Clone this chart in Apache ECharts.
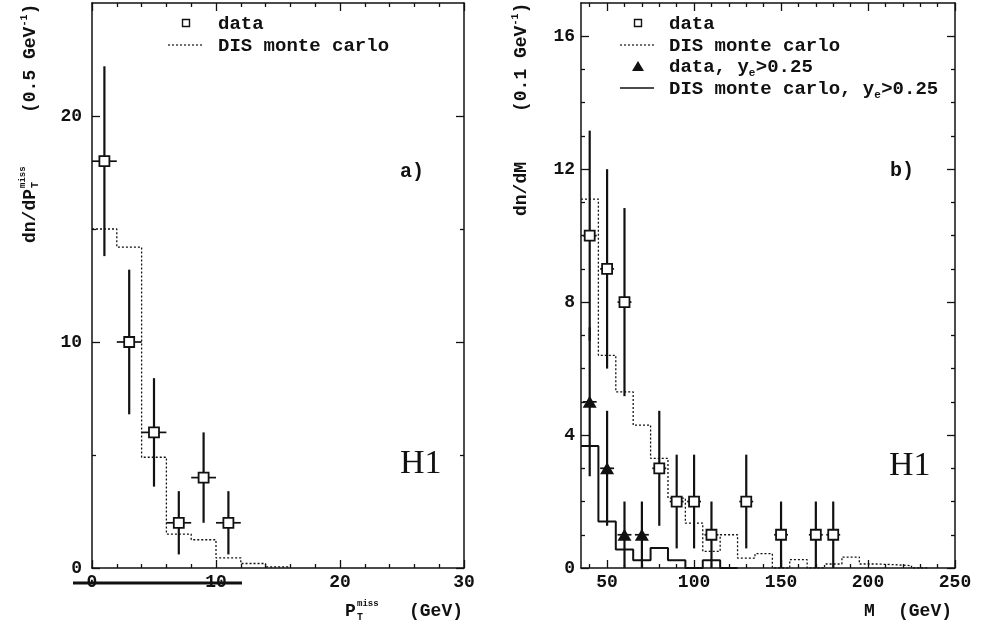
<!DOCTYPE html>
<html>
<head>
<meta charset="utf-8">
<script src="https://cdn.jsdelivr.net/npm/echarts@6/dist/echarts.min.js"></script>
<style>
  html, body { margin: 0; padding: 0; background: #fff; }
  #chart { width: 994px; height: 626px; }
</style>
</head>
<body>
<div id="chart"></div>
<script>
// ---------- panel a): missing transverse momentum ----------
const ptDataX = [1, 3, 5, 7, 9, 11];
const ptDataY = [18, 10, 6, 2, 4, 2];
const ptDataLo = [13.8, 6.8, 3.6, 0.6, 2.0, 0.6];
const ptDataHi = [22.2, 13.2, 8.4, 3.4, 6.0, 3.4];
const ptHalfBin = 1;
const ptMcEdges = [0, 2, 4, 6, 8, 10, 12, 14, 16];
const ptMcValues = [15.0, 14.2, 4.9, 1.5, 1.25, 0.45, 0.2, 0.05];
const ptXLabels = [0, 10, 20, 30];
const ptXMinor = [2, 4, 6, 8, 12, 14, 16, 18, 22, 24, 26, 28];
const ptYLabels = [0, 10, 20];
const ptYMinor = [5, 15];

// ---------- panel b): invariant mass ----------
const mDataX = [40, 50, 60, 80, 90, 100, 110, 130, 150, 170, 180];
const mDataY = [10, 9, 8, 3, 2, 2, 1, 2, 1, 1, 1];
const mDataLo = [6.84, 6.0, 5.17, 1.27, 0.59, 0.59, 0, 0.59, 0, 0, 0];
const mDataHi = [13.16, 12.0, 10.83, 4.73, 3.41, 3.41, 2, 3.41, 2, 2, 2];
const mCutX = [40, 50, 60, 70];
const mCutY = [5, 3, 1, 1];
const mCutLo = [2.76, 1.27, 0, 0];
const mCutHi = [7.24, 4.73, 2, 2];
const mHalfBar = 4;
const mMcEdges = [35, 45, 55, 65, 75, 85, 95, 105, 115, 125, 135, 145, 155, 165, 175, 185, 195, 205, 215, 225, 235];
const mMcValues = [11.1, 6.4, 5.3, 4.3, 3.3, 2.1, 1.35, 0.5, 1.0, 0.3, 0.43, 0, 0.25, 0, 0.12, 0.33, 0.12, 0.1, 0.07, 0];
const mMcCutEdges = [35, 45, 55, 65, 75, 85, 95, 105, 115, 125];
const mMcCutValues = [3.67, 1.4, 0.56, 0.23, 0.6, 0.23, 0, 0.23, 0];
const mXLabels = [50, 100, 150, 200, 250];
const mXMinor = [40, 60, 70, 80, 90, 110, 120, 130, 140, 160, 170, 180, 190, 210, 220, 230, 240];
const mYLabels = [0, 4, 8, 12, 16];
const mYMinor = [1, 2, 3, 5, 6, 7, 9, 10, 11, 13, 14, 15];

const INK = '#111';
const MONO = 'Liberation Mono';
const SERIF = 'Liberation Serif';

// step outline of a histogram: one point per lower edge, closed at the last upper edge
function histPoints(edges, values) {
  const pts = values.map((v, i) => [edges[i], v]);
  pts.push([edges[edges.length - 1], values[values.length - 1]]);
  return pts;
}

function errRows(xs, ys, lo, hi, dx) {
  return xs.map((x, i) => [x, ys[i], lo[i], hi[i], dx]);
}

// one axis of the frame: labels/major ticks or minor ticks only
function axis(gridIndex, position, min, max, labels, ticks, len, showLine, showLabels, labelMargin) {
  return {
    type: 'value', gridIndex, position, min, max,
    axisLine: { show: showLine, onZero: false, lineStyle: { color: INK, width: 1.5 } },
    axisTick: { show: true, inside: true, length: len, customValues: ticks, lineStyle: { color: INK, width: 1.3 } },
    axisLabel: {
      show: showLabels, customValues: labels, margin: labelMargin,
      color: INK, fontFamily: MONO, fontWeight: 'bold', fontSize: 18
    },
    splitLine: { show: false }
  };
}

function frameAxes(gridIndex, xMin, xMax, xLab, xMin2, yMin, yMax, yLab, yMin2, yMargin) {
  const xs = [
    axis(gridIndex, 'bottom', xMin, xMax, xLab, xLab, 8, true, true, 5),
    axis(gridIndex, 'bottom', xMin, xMax, [], xMin2, 4, false, false, 5),
    axis(gridIndex, 'top', xMin, xMax, [], xLab, 8, true, false, 5),
    axis(gridIndex, 'top', xMin, xMax, [], xMin2, 4, false, false, 5)
  ];
  const ys = [
    axis(gridIndex, 'left', yMin, yMax, yLab, yLab, 8, true, true, yMargin),
    axis(gridIndex, 'left', yMin, yMax, [], yMin2, 4, false, false, yMargin),
    axis(gridIndex, 'right', yMin, yMax, [], yLab, 8, true, false, yMargin),
    axis(gridIndex, 'right', yMin, yMax, [], yMin2, 4, false, false, yMargin)
  ];
  return { xs, ys };
}

const fa = frameAxes(0, 0, 30, ptXLabels, ptXMinor, 0, 25, ptYLabels, ptYMinor, 10);
const fb = frameAxes(1, 35, 250, mXLabels, mXMinor, 0, 17, mYLabels, mYMinor, 6);

function errorSeries(rows, axisIdx) {
  return {
    type: 'custom', xAxisIndex: axisIdx, yAxisIndex: axisIdx,
    data: rows, encode: { x: 0, y: 1 }, z: 3, silent: true,
    renderItem(params, api) {
      const x = api.value(0), y = api.value(1), lo = api.value(2), hi = api.value(3), dx = api.value(4);
      const a = api.coord([x, lo]), b = api.coord([x, hi]);
      const l = api.coord([x - dx, y]), r = api.coord([x + dx, y]);
      return {
        type: 'group',
        children: [
          { type: 'line', shape: { x1: a[0], y1: a[1], x2: b[0], y2: b[1] }, style: { stroke: INK, lineWidth: 2.2 } },
          { type: 'line', shape: { x1: l[0], y1: l[1], x2: r[0], y2: r[1] }, style: { stroke: INK, lineWidth: 1.7 } }
        ]
      };
    }
  };
}

function histSeries(edges, values, axisIdx, dotted, width) {
  return {
    type: 'line', xAxisIndex: axisIdx, yAxisIndex: axisIdx, step: 'end',
    data: histPoints(edges, values), symbol: 'none', z: 2, silent: true,
    lineStyle: { color: INK, width, type: dotted ? [2, 2] : 'solid' }
  };
}

function markerSeries(xs, ys, axisIdx, shape) {
  const open = shape === 'rect';
  return {
    type: 'scatter', xAxisIndex: axisIdx, yAxisIndex: axisIdx, z: 5, silent: true,
    data: xs.map((x, i) => [x, ys[i]]),
    symbol: shape, symbolSize: open ? 10 : [14, 12],
    itemStyle: open
      ? { color: '#fff', borderColor: INK, borderWidth: 1.8, opacity: 1 }
      : { color: INK, opacity: 1 }
  };
}

// ---- free text: legend, panel tags, axis titles ----
const CW = 0.6; // Liberation Mono advance per em
function txt(x, y, s, size, extra) {
  return {
    type: 'text', x, y,
    style: Object.assign({ text: s, fill: INK, font: `bold ${size}px "${MONO}"`, verticalAlign: 'middle', align: 'left' }, extra || {})
  };
}

const LS = 19; // legend font size
const legendA = [
  { type: 'rect', shape: { x: 182.5, y: 19.5, width: 7, height: 7 }, style: { fill: '#fff', stroke: INK, lineWidth: 1.4 } },
  txt(218, 24, 'data', LS),
  { type: 'line', shape: { x1: 168, y1: 45, x2: 203, y2: 45 }, style: { stroke: INK, lineWidth: 1.2, lineDash: [2, 2] } },
  txt(218, 46, 'DIS monte carlo', LS)
];
const lx = 669;
const sub1 = lx + 7 * LS * CW;
const sub2 = lx + 18 * LS * CW;
const legendB = [
  { type: 'rect', shape: { x: 634.5, y: 19.5, width: 7, height: 7 }, style: { fill: '#fff', stroke: INK, lineWidth: 1.4 } },
  txt(lx, 24, 'data', LS),
  { type: 'line', shape: { x1: 620, y1: 45, x2: 654, y2: 45 }, style: { stroke: INK, lineWidth: 1.2, lineDash: [2, 2] } },
  txt(lx, 46, 'DIS monte carlo', LS),
  { type: 'polygon', shape: { points: [[638, 61], [644, 71], [632, 71]] }, style: { fill: INK } },
  txt(lx, 67, 'data, y', LS),
  txt(sub1, 73, 'e', 11),
  txt(sub1 + 7, 67, '>0.25', LS),
  { type: 'line', shape: { x1: 620, y1: 88, x2: 654, y2: 88 }, style: { stroke: INK, lineWidth: 1.6 } },
  txt(lx, 89, 'DIS monte carlo, y', LS),
  txt(sub2, 95, 'e', 11),
  txt(sub2 + 7, 89, '>0.25', LS)
];

// rotated y titles: local x runs up the page, local y to the right
const TS = 18;
const yTitleA = {
  type: 'group', x: 30, y: 243, rotation: Math.PI / 2,
  children: [
    txt(0, 0, 'dn/dP', TS),
    txt(5 * TS * CW + 1, 5, 'T', 10),
    txt(5 * TS * CW + 1, -7, 'miss', 9),
    txt(130, 0, '(0.5 GeV', TS),
    txt(130 + 8 * TS * CW, -6, '-1', 10),
    txt(130 + 8 * TS * CW + 12, 0, ')', TS)
  ]
};
const yTitleB = {
  type: 'group', x: 521, y: 216, rotation: Math.PI / 2,
  children: [
    txt(0, 0, 'dn/dM', TS),
    txt(104, 0, '(0.1 GeV', TS),
    txt(104 + 8 * TS * CW, -6, '-1', 10),
    txt(104 + 8 * TS * CW + 12, 0, ')', TS)
  ]
};
const xTitleA = [
  txt(345, 611, 'P', TS),
  txt(357, 617, 'T', 10),
  txt(357, 604, 'miss', 9),
  txt(409, 611, '(GeV)', TS)
];
const xTitleB = [
  txt(864, 611, 'M', TS),
  txt(898, 611, '(GeV)', TS)
];
const tags = [
  txt(400, 172, 'a)', 20),
  txt(890, 171, 'b)', 20),
  { type: 'text', x: 400, y: 464, style: { text: 'H1', fill: INK, font: `34px "${SERIF}"`, verticalAlign: 'middle' } },
  { type: 'text', x: 889, y: 466, style: { text: 'H1', fill: INK, font: `34px "${SERIF}"`, verticalAlign: 'middle' } }
];
// heavy rule printed under the left-hand momentum scale
const rule = [
  { type: 'line', shape: { x1: 73, y1: 583, x2: 242, y2: 583 }, style: { stroke: INK, lineWidth: 3 }, z: 10 }
];

const chart = echarts.init(document.getElementById('chart'), null, { renderer: 'canvas' });
chart.setOption({
  backgroundColor: '#fff',
  animation: false,
  grid: [
    { left: 92, top: 3, width: 372, height: 565 },
    { left: 581, top: 3, width: 374, height: 565 }
  ],
  xAxis: fa.xs.concat(fb.xs),
  yAxis: fa.ys.concat(fb.ys),
  series: [
    histSeries(ptMcEdges, ptMcValues, 0, true, 1.3),
    errorSeries(errRows(ptDataX, ptDataY, ptDataLo, ptDataHi, ptHalfBin), 0),
    markerSeries(ptDataX, ptDataY, 0, 'rect'),

    histSeries(mMcEdges, mMcValues, 4, true, 1.3),
    histSeries(mMcCutEdges, mMcCutValues, 4, false, 2),
    errorSeries(errRows(mDataX, mDataY, mDataLo, mDataHi, mHalfBar), 4),
    errorSeries(errRows(mCutX, mCutY, mCutLo, mCutHi, mHalfBar), 4),
    markerSeries(mDataX, mDataY, 4, 'rect'),
    markerSeries(mCutX, mCutY, 4, 'triangle')
  ],
  graphic: [].concat(legendA, legendB, [yTitleA, yTitleB], xTitleA, xTitleB, tags, rule)
});
</script>
</body>
</html>
